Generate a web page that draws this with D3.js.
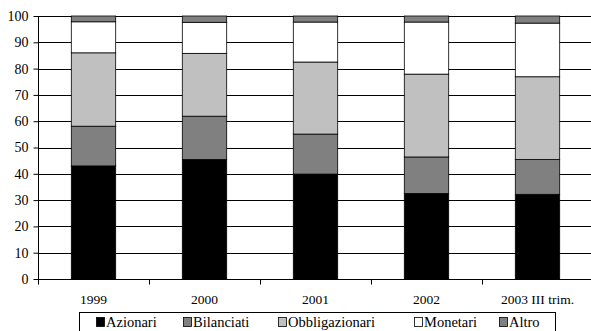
<!DOCTYPE html>
<html>
<head>
<meta charset="utf-8">
<script src="https://cdn.jsdelivr.net/npm/d3@7"></script>
<style>
  html, body { margin: 0; padding: 0; background: #fff; }
  svg { display: block; }
</style>
</head>
<body>
<svg id="chart" width="591" height="331"></svg>
<script>
// Composizione percentuale per categoria di fondo
const categories = ["1999", "2000", "2001", "2002", "2003 III trim."];
const seriesNames = ["Azionari", "Bilanciati", "Obbligazionari", "Monetari", "Altro"];
const azionari       = [43.0, 45.4, 39.9, 32.5, 32.2];
const bilanciati     = [15.1, 16.5, 15.2, 13.9, 13.2];
const obbligazionari = [27.9, 23.9, 27.4, 31.5, 31.5];
const monetari       = [11.8, 11.8, 15.2, 19.8, 20.4];
const altro          = [2.2, 2.4, 2.3, 2.3, 2.7];
const yTicks = [0, 10, 20, 30, 40, 50, 60, 70, 80, 90, 100];

const seriesValues = [azionari, bilanciati, obbligazionari, monetari, altro];
const colors = ["#000000", "#808080", "#c0c0c0", "#ffffff", "#808080"];
const FONT = "Liberation Serif";

const svg = d3.select("#chart");

const x = d3.scaleBand().domain(categories).range([38, 593]).paddingInner(0).paddingOuter(0);
const y = d3.scaleLinear().domain([0, 100]).range([279, 16]);

const rows = categories.map((c, i) => {
  const r = { cat: c };
  seriesNames.forEach((s, j) => { r[s] = seriesValues[j][i]; });
  return r;
});
const stacked = d3.stack().keys(seriesNames)(rows);

// gridlines
svg.append("g")
  .selectAll("line")
  .data(yTicks.filter(t => t > 0))
  .join("line")
  .attr("x1", 38).attr("x2", 591)
  .attr("y1", d => Math.round(y(d)) + 0.5)
  .attr("y2", d => Math.round(y(d)) + 0.5)
  .attr("stroke", "#000").attr("stroke-width", 1);

// bars
const barW = x.bandwidth() * 0.4;
svg.append("g")
  .selectAll("g")
  .data(stacked)
  .join("g")
  .attr("fill", (d, i) => colors[i])
  .selectAll("rect")
  .data(d => d)
  .join("rect")
  .attr("x", d => x(d.data.cat) + (x.bandwidth() - barW) / 2)
  .attr("width", barW)
  .attr("y", d => y(d[1]))
  .attr("height", d => y(d[0]) - y(d[1]))
  .attr("stroke", "#000")
  .attr("stroke-width", 0.8);

// y axis
const yAxis = svg.append("g")
  .attr("transform", "translate(38.5,0)")
  .call(d3.axisLeft(y).tickValues(yTicks).tickSize(5).tickPadding(5));
yAxis.selectAll("text")
  .attr("fill", "#000")
  .attr("font-family", FONT)
  .attr("font-size", 14);
yAxis.selectAll("line, path").attr("stroke", "#000");
yAxis.select(".domain").attr("d", `M0,${y(0)}V${y(100)}`);

// x axis
const xAxis = svg.append("g")
  .attr("transform", `translate(0,${Math.round(y(0)) + 0.5})`);
xAxis.append("line")
  .attr("x1", 38).attr("x2", 591).attr("stroke", "#000");
const bounds = categories.map(c => x(c)).concat([x.range()[1]]);
xAxis.selectAll("line.tick")
  .data(bounds)
  .join("line")
  .attr("class", "tick")
  .attr("x1", d => Math.round(d) + 0.5).attr("x2", d => Math.round(d) + 0.5)
  .attr("y1", 0).attr("y2", 5)
  .attr("stroke", "#000");
xAxis.selectAll("text")
  .data(categories)
  .join("text")
  .attr("x", d => x(d) + x.bandwidth() / 2)
  .attr("y", 24)
  .attr("text-anchor", "middle")
  .attr("font-family", FONT)
  .attr("font-size", 13.5)
  .text(d => d);

// legend
const legend = svg.append("g");
legend.append("rect")
  .attr("x", 79.5).attr("y", 312.5).attr("width", 476).attr("height", 30)
  .attr("fill", "none").attr("stroke", "#000");
const legendX = [96, 183, 278, 414, 499];
const item = legend.selectAll("g.item")
  .data(seriesNames)
  .join("g")
  .attr("class", "item")
  .attr("transform", (d, i) => `translate(${legendX[i]},0)`);
item.append("rect")
  .attr("x", 0.5).attr("y", 317.5).attr("width", 8).attr("height", 9)
  .attr("fill", (d, i) => colors[i])
  .attr("stroke", "#000").attr("stroke-width", 0.8);
item.append("text")
  .attr("x", 10).attr("y", 327)
  .attr("font-family", FONT)
  .attr("font-size", 14.5)
  .text(d => d);
</script>
</body>
</html>
